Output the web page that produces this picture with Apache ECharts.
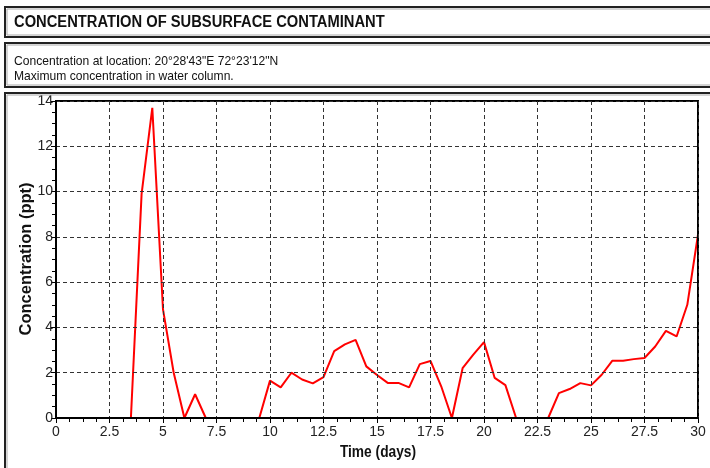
<!DOCTYPE html>
<html>
<head>
<meta charset="utf-8">
<script src="https://cdn.jsdelivr.net/npm/echarts@6/dist/echarts.min.js"></script>
<style>
html,body{margin:0;padding:0;background:#fff;}
#chart{width:710px;height:468px;}
</style>
</head>
<body>
<div id="chart"></div>
<script>
const titleText = "CONCENTRATION OF SUBSURFACE CONTAMINANT";
const subtitleLines = ["Concentration at location: 20°28'43\"E 72°23'12\"N", "Maximum concentration in water column."];
const xAxisName = "Time (days)";
const yAxisName = "Concentration (ppt)";

const days = [0,0.5,1,1.5,2,2.5,3,3.5,4,4.5,5,5.5,6,6.5,7,7.5,8,8.5,9,9.5,
  10,10.5,11,11.5,12,12.5,13,13.5,14,14.5,15,15.5,16,16.5,17,17.5,18,18.5,19,19.5,
  20,20.5,21,21.5,22,22.5,23,23.5,24,24.5,25,25.5,26,26.5,27,27.5,28,28.5,29,29.5,30];
const concentration = [0,0,0,0,0,0,0,0,9.9,13.7,4.8,2.0,0,1.05,0,0,0,0,0,0,
  1.65,1.35,2.0,1.7,1.53,1.8,2.95,3.25,3.45,2.28,1.9,1.55,1.55,1.35,2.38,2.52,1.4,0,2.2,2.8,
  3.35,1.77,1.45,0,0,0,0,1.1,1.28,1.54,1.44,1.91,2.53,2.53,2.6,2.65,3.16,3.85,3.6,5.0,8.1];

const FONT = "'Liberation Sans', Arial, sans-serif";

const chart = echarts.init(document.getElementById('chart'), null, {renderer: 'canvas'});
const seriesData = days.map((d, i) => [d, concentration[i]]);

function box(y, h) {
  return [
    {type: 'rect', shape: {x: 5, y: y, width: 760, height: h}, style: {fill: 'none', stroke: '#222', lineWidth: 2}, z: 10},
    {type: 'rect', shape: {x: 7, y: y + 2, width: 760, height: h - 4}, style: {fill: 'none', stroke: '#aaa', lineWidth: 1}, z: 10}
  ];
}

chart.setOption({
  animation: false,
  backgroundColor: '#fff',
  grid: {left: 56, right: 12, top: 101, bottom: 50, show: true, borderColor: '#000', borderWidth: 2, backgroundColor: 'transparent', z: 4},
  graphic: [
    ...box(7, 30),
    ...box(43, 44),
    ...box(93, 420),
    {type: 'text', x: 14, y: 23, scaleX: 0.92, style: {text: titleText, font: 'bold 16px ' + FONT, fill: '#111', align: 'left', verticalAlign: 'middle'}, z: 11},
    {type: 'text', x: 14, y: 61, scaleX: 0.93, style: {text: subtitleLines[0], font: '13px ' + FONT, fill: '#111', align: 'left', verticalAlign: 'middle'}, z: 11},
    {type: 'text', x: 14, y: 76, scaleX: 0.93, style: {text: subtitleLines[1], font: '13px ' + FONT, fill: '#111', align: 'left', verticalAlign: 'middle'}, z: 11},
    {type: 'text', x: 378, y: 453, scaleX: 0.86, style: {text: xAxisName, font: 'bold 16px ' + FONT, fill: '#111', align: 'center', verticalAlign: 'middle'}, z: 11},
    {type: 'text', x: 26, y: 259, rotation: Math.PI / 2, style: {text: yAxisName, font: 'bold 16.5px ' + FONT, fill: '#111', align: 'center', verticalAlign: 'middle'}, z: 11}
  ],
  xAxis: {
    type: 'value', min: 0, max: 30, interval: 2.5, z: 5,
    axisLine: {show: true, onZero: false, lineStyle: {color: '#000', width: 2}},
    axisTick: {show: true, inside: false, length: 5, lineStyle: {color: '#000', width: 1}},
    minorTick: {show: true, splitNumber: 4, length: 4, lineStyle: {color: '#000', width: 1}},
    axisLabel: {fontFamily: FONT, fontSize: 14, color: '#222', margin: 7},
    splitLine: {show: true, lineStyle: {color: '#333', width: 1, type: [4, 3]}},
    minorSplitLine: {show: false}
  },
  yAxis: {
    type: 'value', min: 0, max: 14, interval: 2, z: 5,
    axisLine: {show: true, onZero: false, lineStyle: {color: '#000', width: 2}},
    axisTick: {show: true, inside: false, length: 5, lineStyle: {color: '#000', width: 1}},
    minorTick: {show: true, splitNumber: 4, length: 4, lineStyle: {color: '#000', width: 1}},
    axisLabel: {fontFamily: FONT, fontSize: 14, color: '#222', margin: 3},
    splitLine: {show: true, lineStyle: {color: '#333', width: 1, type: [4, 3]}}
  },
  series: [{
    type: 'line', data: seriesData, symbol: 'none', z: 3,
    lineStyle: {color: '#ff0000', width: 2}
  }]
});
</script>
</body>
</html>
